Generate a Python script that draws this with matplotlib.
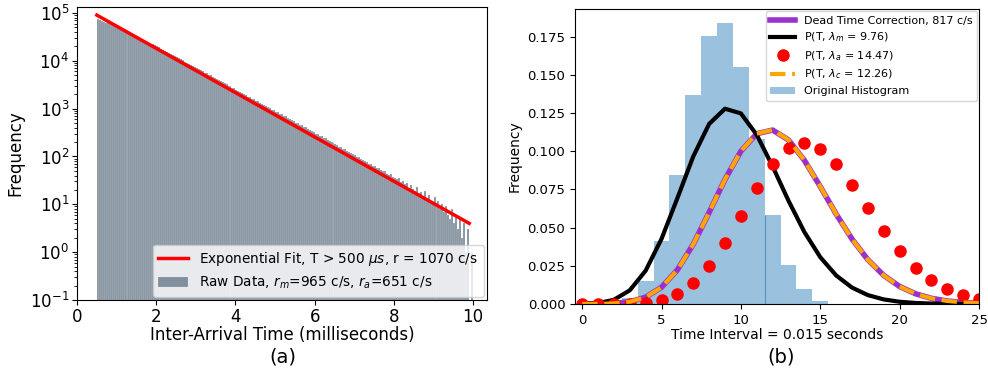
import numpy as np
import matplotlib
matplotlib.use("Agg")
import matplotlib.pyplot as plt

# ---- panel (a): inter-arrival histogram, 0.05 ms bins from 0.5 ms ----
bin_start = 0.5
bin_width = 0.05
raw_counts = [
    75000, 71800, 68700, 65700, 62900, 60200, 57600, 55100, 52700, 50500,
    48300, 46200, 44200, 42300, 40500, 38800, 37100, 35500, 34000, 32500,
    31100, 29800, 28500, 27300, 26100, 25000, 23900, 22900, 21900, 21000,
    20000, 19100, 18010, 17200, 16210, 15500, 14600, 13950, 13140, 12600,
    11840, 11350, 10660, 10250, 9590, 9200, 8640, 8300, 7780, 7480,
    7000, 6750, 6310, 6080, 5680, 5470, 5110, 4930, 4610, 4440,
    4150, 4000, 3730, 3600, 3360, 3250, 3030, 2930, 2730, 2640,
    2460, 2380, 2210, 2150, 1990, 1930, 1790, 1750, 1610, 1570,
    1450, 1410, 1310, 1270, 1180, 1150, 1060, 1040, 955, 930,
    860, 840, 774, 760, 697, 685, 628, 615, 565, 555,
    509, 500, 458, 452, 413, 405, 372, 365, 335, 330,
    301, 296, 271, 266, 244, 240, 220, 215, 198, 194,
    178, 174, 160, 157, 144, 141, 130, 126, 117, 114,
    108, 98, 97, 88, 86, 79, 78, 71, 70, 64,
    63, 57, 58, 51, 49, 50, 44, 41, 42, 37,
    36, 33, 35, 29, 31, 26, 28, 22, 25, 21,
    19, 23, 17, 18, 15, 19, 13, 16, 12, 11,
    14, 9, 12, 8, 10, 7, 9, 6, 5, 8,
    4, 6, 3, 5, 2, 4, 1, 3, 0, 1,
]
fit_t = [0.5, 9.9]
fit_y = [9.0e4, 4.0]

# ---- panel (b): counts per 0.015 s interval ----
k = list(range(26))
hist_left = [2.5, 3.5, 4.5, 5.5, 6.5, 7.5, 8.5, 9.5, 10.5, 11.5, 12.5, 13.5, 14.5]
hist_freq = [0.004, 0.0153, 0.0414, 0.0844, 0.137, 0.1756, 0.1837, 0.155,
             0.108, 0.0584, 0.0255, 0.0096, 0.002]
p_m = [0.00006, 0.00056, 0.00275, 0.00894, 0.02181, 0.04258, 0.06926, 0.09657,
       0.11781, 0.12776, 0.12470, 0.11064, 0.08999, 0.06756, 0.04710, 0.03065,
       0.01870, 0.01073, 0.00582, 0.00299, 0.00146, 0.00068, 0.0003, 0.00013,
       0.00005, 0.00002]
p_a = [0.0000005, 0.0000075, 0.0000544, 0.000262, 0.000949, 0.002748, 0.006626,
       0.01370, 0.02478, 0.03984, 0.05765, 0.07583, 0.09144, 0.10178, 0.10520,
       0.10148, 0.09178, 0.07812, 0.06280, 0.04783, 0.03460, 0.02384, 0.01568,
       0.00987, 0.00595, 0.00344]
p_c = [0.000005, 0.000058, 0.000356, 0.001453, 0.004453, 0.010919, 0.02231,
       0.03908, 0.05989, 0.08158, 0.10002, 0.11147, 0.11389, 0.10740, 0.09405,
       0.07687, 0.05890, 0.04248, 0.02893, 0.01867, 0.01144, 0.00668, 0.00372,
       0.00198, 0.00101, 0.00050]
p_dead = [0.000005, 0.000058, 0.000357, 0.001457, 0.004462, 0.010935, 0.02233,
          0.03910, 0.05990, 0.08157, 0.09998, 0.11140, 0.11380, 0.10733, 0.09400,
          0.07685, 0.05890, 0.04250, 0.02895, 0.01870, 0.01146, 0.00670, 0.00373,
          0.00199, 0.00102, 0.00050]

fig = plt.figure(figsize=(9.88, 3.77), dpi=100)
W, H = 988.0, 377.0

# panel (a)
ax1 = fig.add_axes([77 / W, 1 - 300 / H, (487 - 77) / W, (300 - 7) / H])
edges = bin_start + bin_width * np.arange(len(raw_counts))
ax1.bar(edges, raw_counts, width=bin_width, align='edge', color='slategray',
        alpha=0.85, edgecolor='white', linewidth=0.12,
        label=r'Raw Data, $r_m$=965 c/s, $r_a$=651 c/s')
ax1.plot(fit_t, fit_y, color='red', lw=2.5,
         label=r'Exponential Fit, T > 500 $\mu s$, r = 1070 c/s')
ax1.set_yscale('log')
ax1.set_ylim(0.1, 1.33e5)
ax1.set_xlim(0, 10.35)
ax1.set_xticks([0, 2, 4, 6, 8, 10])
ax1.tick_params(labelsize=12, pad=2)
ax1.set_xlabel('Inter-Arrival Time (milliseconds)', fontsize=12, labelpad=0)
ax1.set_ylabel('Frequency', fontsize=12)
ax1.legend(loc='lower right', fontsize=9.8, borderaxespad=0.25,
           handlelength=2.2)

# panel (b)
ax2 = fig.add_axes([575 / W, 1 - 304 / H, (979 - 575) / W, (304 - 9) / H])
ax2.bar(hist_left, hist_freq, width=1.0, align='edge', color='tab:blue',
        alpha=0.45, label='Original Histogram')
ax2.vlines(hist_left[9], 0, hist_freq[9], color='tab:blue', lw=0.8, alpha=0.6)
ax2.plot(k, p_dead, color='darkorchid', lw=4,
         label='Dead Time Correction, 817 c/s')
ax2.plot(k, p_m, color='black', lw=3, label=r'P(T, $\lambda_m$ = 9.76)')
ax2.plot(k, p_a, 'o', color='red', ms=8, label=r'P(T, $\lambda_a$ = 14.47)')
ax2.plot(k, p_c, '--', color='orange', lw=3, label=r'P(T, $\lambda_c$ = 12.26)')
ax2.set_xlim(-0.45, 25)
ax2.set_ylim(0, 0.193)
ax2.set_yticks([0, 0.025, 0.05, 0.075, 0.1, 0.125, 0.15, 0.175])
ax2.tick_params(labelsize=9.5)
ax2.set_xlabel('Time Interval = 0.015 seconds', fontsize=10, labelpad=1)
ax2.set_ylabel('Frequency', fontsize=10)
ax2.legend(loc='upper right', fontsize=8, borderaxespad=0.2,
           handlelength=2.2, labelspacing=0.45)

fig.text(283 / W, 1 - 357 / H, '(a)', fontsize=14, ha='center', va='center')
fig.text(781 / W, 1 - 357 / H, '(b)', fontsize=14, ha='center', va='center')

fig.savefig('out.png', dpi=100)
